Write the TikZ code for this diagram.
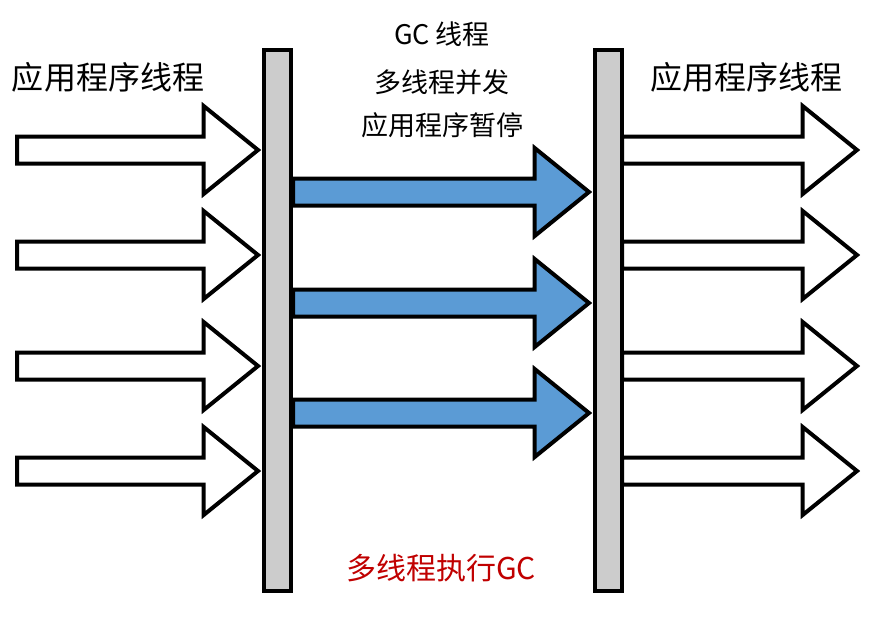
\documentclass[tikz,border=0pt]{standalone}
\usepackage{fontspec}
\setmainfont{Noto Sans CJK SC}
\usetikzlibrary{shapes.arrows, positioning}

\definecolor{barGray}{RGB}{204,204,204}
\definecolor{gcBlue}{RGB}{91,155,213}
\definecolor{gcRed}{RGB}{192,0,0}

\tikzset{
  bar/.style={rectangle, draw, line width=4pt, fill=barGray, minimum width=27pt, minimum height=541pt, inner sep=0pt, outer sep=0pt},
  thread/.style={single arrow, draw, line width=4pt, fill=white, inner sep=0pt, inner ysep=11.5pt, outer sep=0pt, single arrow head extend=30.5pt, single arrow tip angle=78},
  gcthread/.style={thread, fill=gcBlue},
  applabel/.style={font=\fontsize{32}{38}\selectfont},
  gclabel/.style={font=\fontsize{27}{32}\selectfont},
}

\begin{document}
\begin{tikzpicture}[x=1pt, y=-1pt]
    \useasboundingbox (0,0) rectangle (874,621);

    \node (lbar) [bar] at (277.5,320.5) {};
    \node (rbar) [bar] at (608.5,320.5) {};

    % application threads in and out
    \foreach \y [count=\i] in {150,255,366,471} {
        \node (appin\i) [thread, minimum height=241pt, anchor=tip, xshift=-6pt] at (lbar.west |- 0,\y) {};
        \node (appout\i) [thread, minimum height=235pt, anchor=tail] at (rbar.east |- 0,\y) {};
    }

    % gc threads
    \foreach \y [count=\i] in {192,303,413} {
        \node (gc\i) [gcthread, minimum height=296pt, anchor=tail, xshift=2pt] at (lbar.east |- 0,\y) {};
    }

    \node (appleft) [applabel] at (108,77) {应用程序线程};
    \node (appright) [applabel] at (746,77) {应用程序线程};

    \node (gctitle) [gclabel] at (442,34) {GC 线程};
    \node (gcmulti) [gclabel] at (442,82) {多线程并发};
    \node (gcpause) [gclabel] at (442,125) {应用程序暂停};

    \node (gcrun) [gclabel, font=\fontsize{30}{36}\selectfont, text=gcRed] at (441,568) {多线程执行GC};
\end{tikzpicture}
\end{document}
